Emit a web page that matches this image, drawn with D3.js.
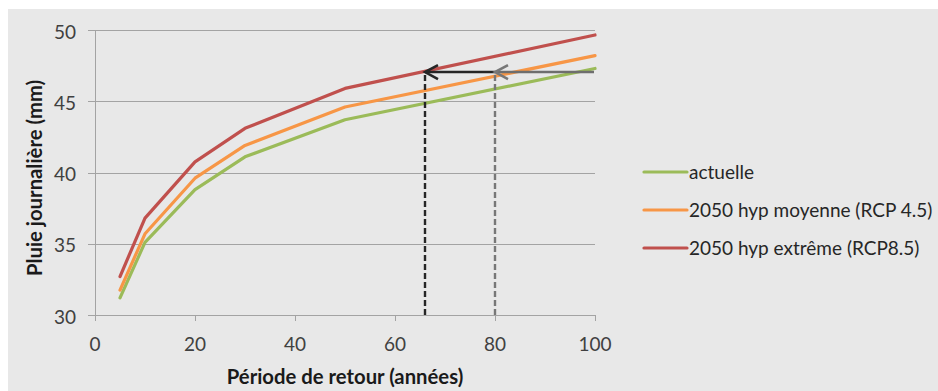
<!DOCTYPE html>
<html>
<head>
<meta charset="utf-8">
<script src="https://cdn.jsdelivr.net/npm/d3@7"></script>
<style>
  html, body { margin: 0; padding: 0; background: #ffffff; }
  svg { display: block; }
  text { font-family: Lato, "Open Sans", sans-serif; }
</style>
</head>
<body>
<svg id="chart" width="938" height="391"></svg>
<script>
// ---- data ----
const periods = [5, 10, 20, 30, 50, 100];
const actuelle = [31.2, 35.1, 38.8, 41.1, 43.7, 47.3];
const rcp45 = [31.75, 35.7, 39.6, 41.9, 44.6, 48.2];
const rcp85 = [32.7, 36.8, 40.75, 43.1, 45.9, 49.65];
const seriesNames = ["actuelle", "2050 hyp moyenne (RCP 4.5)", "2050 hyp extrême (RCP8.5)"];
const seriesColors = ["#9bbb59", "#f79646", "#c0504d"];
const xTicks = [0, 20, 40, 60, 80, 100];
const yTicks = [30, 35, 40, 45, 50];
const targetRain = 47.05;
const returnPeriodNow = 100;
const returnPeriod45 = 80;
const returnPeriod85 = 66;

const svg = d3.select("#chart");
svg.append("rect").attr("x", 8).attr("y", 9).attr("width", 930).attr("height", 382).attr("fill", "#e8e8e8");

const x = d3.scaleLinear().domain([0, 100]).range([95, 595]);
const y = d3.scaleLinear().domain([30, 50]).range([315, 30]);

// gridlines
const grid = svg.append("g");
grid.selectAll("line").data(yTicks).join("line")
  .attr("x1", 88).attr("x2", x(100))
  .attr("y1", d => Math.round(y(d)) + 0.5).attr("y2", d => Math.round(y(d)) + 0.5)
  .attr("stroke", "#a3a3a3").attr("stroke-width", 1);
// y axis line
svg.append("line").attr("x1", x(0) + 0.5).attr("x2", x(0) + 0.5).attr("y1", y(50)).attr("y2", y(30) + 6)
  .attr("stroke", "#a3a3a3");
// x ticks
svg.append("g").selectAll("line").data(xTicks).join("line")
  .attr("x1", d => Math.round(x(d)) + 0.5).attr("x2", d => Math.round(x(d)) + 0.5)
  .attr("y1", y(30)).attr("y2", y(30) + 6).attr("stroke", "#a3a3a3");

// tick labels
svg.append("g").selectAll("text").data(yTicks).join("text")
  .attr("x", 76).attr("y", d => y(d) + 2).attr("dy", "0.35em").attr("text-anchor", "end")
  .attr("font-size", 19).attr("fill", "#404040").text(d => d);
svg.append("g").selectAll("text").data(xTicks).join("text")
  .attr("x", d => x(d)).attr("y", 344).attr("dy", "0.35em").attr("text-anchor", "middle")
  .attr("font-size", 19).attr("fill", "#404040").text(d => d);

// axis titles
svg.append("text").attr("x", 345).attr("y", 377).attr("dy", "0.35em").attr("text-anchor", "middle")
  .attr("font-size", 20.3).attr("font-weight", "bold").attr("fill", "#1a1a1a").text("Période de retour (années)");
svg.append("text").attr("transform", "translate(35,178) rotate(-90)").attr("dy", "0.35em").attr("text-anchor", "middle")
  .attr("font-size", 20.3).attr("font-weight", "bold").attr("fill", "#1a1a1a").text("Pluie journalière (mm)");

// series lines
const allSeries = [actuelle, rcp45, rcp85];
const line = d3.line().x((d, i) => x(periods[i])).y(d => y(d));
svg.append("g").selectAll("path").data(allSeries).join("path")
  .attr("d", line).attr("fill", "none")
  .attr("stroke", (d, i) => seriesColors[i]).attr("stroke-width", 3.2)
  .attr("stroke-linejoin", "round").attr("stroke-linecap", "round");

// annotations
function chevron(g, tipX, tipY, color) {
  g.append("path")
    .attr("d", `M${tipX + 13},${tipY - 7} L${tipX},${tipY} L${tipX + 13},${tipY + 7}`)
    .attr("fill", "none").attr("stroke", color).attr("stroke-width", 2.6)
    .attr("stroke-linejoin", "miter");
}
const ann = svg.append("g");
ann.append("line").attr("x1", x(returnPeriod85)).attr("x2", x(returnPeriod85))
  .attr("y1", y(30)).attr("y2", y(targetRain))
  .attr("stroke", "#262626").attr("stroke-width", 2.4).attr("stroke-dasharray", "6,3");
ann.append("line").attr("x1", x(returnPeriod45)).attr("x2", x(returnPeriod45))
  .attr("y1", y(30)).attr("y2", y(targetRain))
  .attr("stroke", "#777777").attr("stroke-width", 2.4).attr("stroke-dasharray", "6,3");
ann.append("line").attr("x1", x(returnPeriodNow) - 1).attr("x2", x(returnPeriod45))
  .attr("y1", y(targetRain)).attr("y2", y(targetRain))
  .attr("stroke", "#6e6e6e").attr("stroke-width", 2.6);
ann.append("line").attr("x1", x(returnPeriod45)).attr("x2", x(returnPeriod85))
  .attr("y1", y(targetRain)).attr("y2", y(targetRain))
  .attr("stroke", "#262626").attr("stroke-width", 2.6);
chevron(ann, x(returnPeriod45), y(targetRain), "#777777");
chevron(ann, x(returnPeriod85), y(targetRain), "#262626");

// legend
const legY = [172, 210, 248];
const leg = svg.append("g").selectAll("g").data(seriesNames).join("g")
  .attr("transform", (d, i) => `translate(0,${legY[i]})`);
leg.append("line").attr("x1", 644).attr("x2", 687).attr("y1", 0).attr("y2", 0)
  .attr("stroke", (d, i) => seriesColors[i]).attr("stroke-width", 3.2).attr("stroke-linecap", "round");
leg.append("text").attr("x", 689).attr("y", 0).attr("dy", "0.35em")
  .attr("font-size", 19).attr("fill", "#262626").text(d => d);
</script>
</body>
</html>
